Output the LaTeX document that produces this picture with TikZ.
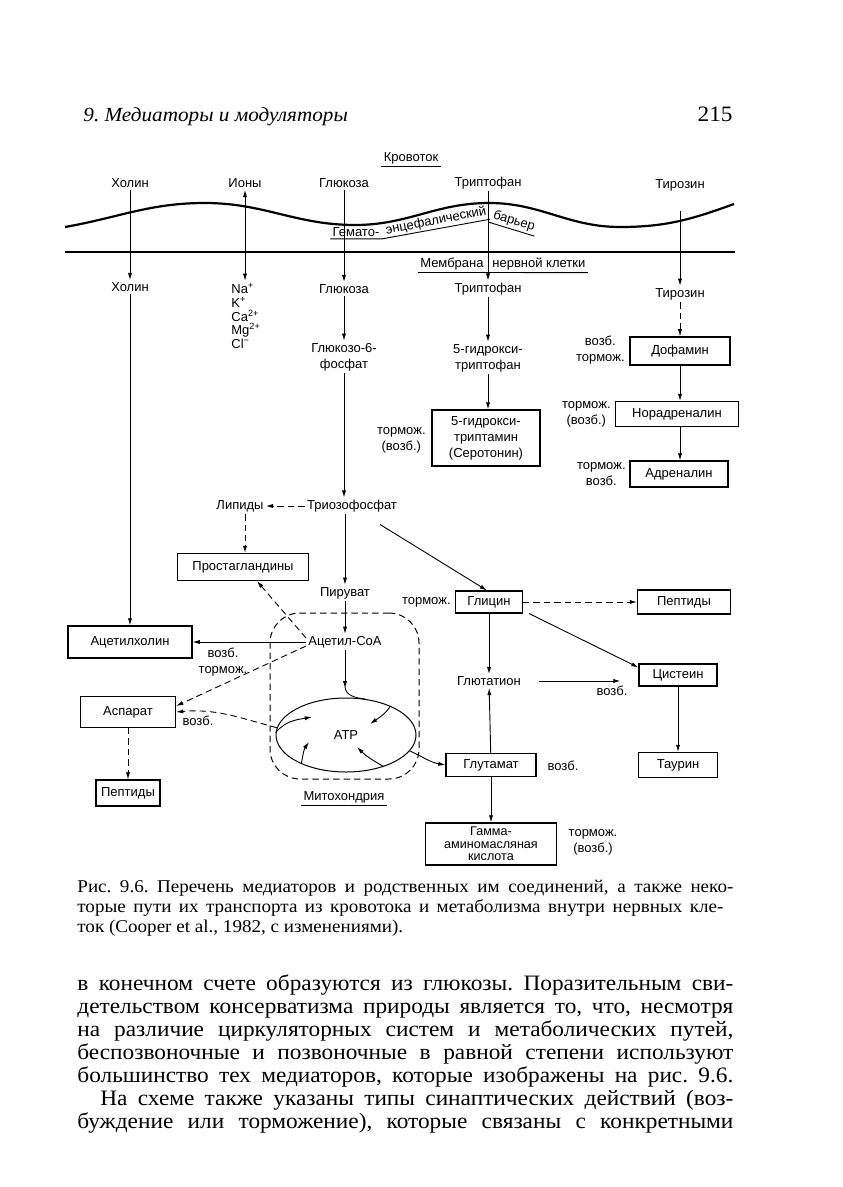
\documentclass[tikz,border=0pt]{standalone}
\usepackage{fontspec}
\setmainfont[FakeStretch=1.06]{Liberation Serif}
\newfontfamily\diagfont{Liberation Sans}
\usetikzlibrary{positioning,arrows.meta,calc,shapes.geometric}
\newcommand{\dgf}{\diagfont\fontsize{6.5}{8}\selectfont}
\frenchspacing

\begin{document}
\begin{tikzpicture}[
  x=0.5pt, y=-0.5pt,
  font=\dgf,
  lbl/.style    ={inner sep=1pt, align=center},
  sidelbl/.style={inner sep=1pt, align=center},
  box/.style    ={draw, line width=0.55pt, inner sep=1pt, align=center},
  ar/.style     ={-{Latex[length=3.6pt,width=2.1pt]}, line width=0.45pt},
  dar/.style    ={ar, dash pattern=on 3.2pt off 2pt},
  ar2/.style    ={{Latex[length=3.6pt,width=2.1pt]}-{Latex[length=3.6pt,width=2.1pt]}, line width=0.45pt},
  wall/.style   ={line width=1.1pt},
  ul/.style     ={line width=0.45pt},
  page/.style   ={inner sep=0pt, anchor=base west},
]
\useasboundingbox (0,0) rectangle (842,1187);
\fill[white] (0,0) rectangle (842,1187);

% running head
\node[page, font=\fontsize{10}{12}\selectfont\itshape] (runhead) at (83,122) {9. Медиаторы и модуляторы};
\node[inner sep=0pt, anchor=base east, font=\fontsize{11}{12}\selectfont] (pageno) at (733,122) {215};

% blood side
\node[lbl] (krov) at (411,158) {Кровоток};
\draw[ul] (krov.south west) -- (krov.south east);
\node[lbl] (cholA) at (130,183) {Холин};
\node[lbl] (ions)  at (245,183) {Ионы};
\node[lbl] (glcA)  at (344,183) {Глюкоза};
\node[lbl] (trpA)  at (488,183) {Триптофан};
\node[lbl] (tyrA)  at (680,185) {Тирозин};

% blood-brain barrier and membrane
\draw[wall] (65,227) to[out=10,in=180] (205,203) to[out=0,in=180] (355,225)
  to[out=0,in=180] (489,203) to[out=0,in=180] (620,227) to[out=0,in=200] (734,204);
\node[lbl] (hemA) at (356,232) {Гемато-};
\node[lbl, rotate=11]  (hemB) at (436,221) {энцефалический};
\node[lbl, rotate=-17] (hemC) at (514,221) {барьер};
\draw[ul] (hemA.south west) -- (hemA.south east) -- (hemB.south east);
\draw[ul] (hemC.south west) -- (hemC.south east);

\draw[wall, line width=0.9pt] (65,252) -- (735,252);
\node[lbl, anchor=east] (memA) at (486,264) {Мембрана};
\node[lbl, anchor=west] (memB) at (490,264) {нервной клетки};
\draw[ul] (memA.south west) -- (memB.south east);

% inside the cell
\node[lbl] (cholB) at (130,287) {Холин};
\node[lbl, align=left, anchor=west, font=\diagfont\fontsize{6.5}{6.9}\selectfont] (ionlist) at (229,316)
  {Na\textsuperscript{+}\\K\textsuperscript{+}\\Ca\textsuperscript{2+}\\Mg\textsuperscript{2+}\\Cl\textsuperscript{−}};
\node[lbl] (glcB) at (344,289) {Глюкоза};
\node[lbl] (g6p)  at (344,357) {Глюкозо-6-\\фосфат};
\node[lbl] (trpB) at (488,289) {Триптофан};
\node[lbl] (htp)  at (488,358) {5-гидрокси-\\триптофан};
\node[box, minimum width=54pt, minimum height=28pt] (ser) at (486,438) {5-гидрокси-\\триптамин\\(Серотонин)};
\node[sidelbl, anchor=east] (serN) at (428,440) {тормож.\\(возб.)};

\node[lbl] (tyrB) at (680,294) {Тирозин};
\node[box, minimum width=50pt, minimum height=14pt]   (da)  at (680,351) {Дофамин};
\node[sidelbl, anchor=east] (daN) at (627,350) {возб.\\тормож.};
\node[box, minimum width=61.5pt, minimum height=12.5pt] (na) at (677,414) {Норадреналин};
\node[sidelbl, anchor=east] (naN) at (613,414) {тормож.\\(возб.)};
\node[box, minimum width=49pt, minimum height=13pt]   (adr) at (679,474) {Адреналин};
\node[sidelbl, anchor=east] (adrN) at (628,474) {тормож.\\возб.};

\node[lbl] (triose) at (352,506) {Триозофосфат};
\node[lbl] (lip)    at (240,506) {Липиды};
\node[box, minimum width=65.5pt, minimum height=13.5pt] (pg) at (243,567) {Простагландины};
\node[lbl] (pyr)  at (345,593) {Пируват};
\node[lbl] (acoa) at (345,642) {Ацетил-CoA};
\node[box, minimum width=62pt, minimum height=16pt] (ach) at (130,642) {Ацетилхолин};
\node[sidelbl] (achN) at (223,662) {возб.\\тормож.};
\node[box, minimum width=47.5pt, minimum height=15.5pt] (asp) at (128,712) {Аспарат};
\node[sidelbl] (aspN) at (198,721) {возб.};
\node[box, minimum width=32pt, minimum height=13pt] (pepL) at (128,793) {Пептиды};

% mitochondrion
\node[draw, dash pattern=on 3.2pt off 2pt, line width=0.5pt, rounded corners=15pt,
      minimum width=74.5pt, minimum height=83pt] (mito) at (344.5,696) {};
\node[draw, ellipse, line width=0.5pt, inner sep=0pt,
      minimum width=70pt, minimum height=37pt] (atp) at (346,735) {ATP};
\node[lbl] (mitoL) at (344,797) {Митохондрия};
\draw[ul] (mitoL.south west) -- (mitoL.south east);

\node[box, minimum width=33.5pt, minimum height=11pt] (gly) at (489,602) {Глицин};
\node[sidelbl, anchor=east] (glyN) at (453,602) {тормож.};
\node[box, minimum width=46.5pt, minimum height=12pt] (pepR) at (684,602) {Пептиды};
\node[lbl] (gsh) at (489,681) {Глютатион};
\node[box, minimum width=39pt, minimum height=11pt] (cys) at (678,675) {Цистеин};
\node[sidelbl] (cysN) at (612,691) {возб.};
\node[box, minimum width=39.5pt, minimum height=12.5pt] (tau) at (678,765) {Таурин};
\node[box, minimum width=45pt, minimum height=11.5pt] (glu) at (491,765) {Глутамат};
\node[sidelbl] (gluN) at (563,766) {возб.};
\node[box, minimum width=65.5pt, minimum height=21pt, font=\diagfont\fontsize{6.3}{6.3}\selectfont]
  (gaba) at (491,844) {Гамма-\\аминомасляная\\кислота};
\node[sidelbl] (gabaN) at (593,842) {тормож.\\(возб.)};

% transport
\draw[ar] (cholA) -- (cholB);
\draw[ar] (cholB) -- (ach);
\draw[ar2] (ions.south) -- (ions.south |- ionlist.north);
\draw[ar] (glcA) -- (glcB);
\draw[ar] (trpA) -- (trpB);
\draw[ar] ($(tyrA.south)+(0,18)$) -- (tyrB);

% metabolism
\draw[ar] (glcB) -- (g6p);
\draw[ar] (g6p) -- (g6p |- triose.north);
\draw[ar] (trpB) -- (htp);
\draw[ar] (htp) -- (htp |- ser.north);
\draw[dar] (tyrB) -- (tyrB |- da.north);
\foreach \a/\b in {da/na,na/adr}{\draw[ar] (da |- \a.south) -- (da |- \b.north);}

\draw[dar] (triose) -- (lip);
\draw[dar] ([xshift=2.5pt]lip.south) -- ([xshift=2.5pt]lip.south |- pg.north);
\draw[ar] (pyr |- triose.south) -- (pyr);
\draw[ar] ($(triose.south)+(28,10)$) -- ([xshift=-1pt]gly.north);
\draw[ar] (pyr) -- (acoa);
\draw[ar] (acoa) -- (ach);
\draw[dar] ([yshift=2pt]acoa.west) -- ([xshift=7pt]pg.south);
\draw[dar] ([yshift=-2pt]acoa.west) -- ([yshift=3pt]asp.east);
\draw[dar] (asp) -- (pepL);

% into and out of the ATP cycle
\draw[ar] (acoa.south) -- ++(0,38);
\draw ($(acoa.south)+(0,36)$) to[out=-90,in=175] (atp.62);
\draw[ar] (atp.178) to[out=50,in=190]  ($(atp.center)+(-34,-18)$);
\draw[ar] (atp.213) to[out=80,in=235]  ($(atp.center)+(-37,7)$);
\draw[ar] (atp.33)  to[out=235,in=35]  ($(atp.center)+(24,-11)$);
\draw[ar] (atp.320) to[out=150,in=-45] ($(atp.center)+(11,12)$);
\draw[ar] (atp.346) to[out=-25,in=170] (glu.west);
\draw[dar] (atp.174) to[out=165,in=5] (asp.east);

\draw[dar] (gly) -- (pepR);
\draw[ar] ([xshift=3pt]gly.south east) -- ([yshift=-2pt]cys.north west);
\draw[ar] (gly) -- (gsh);
\draw[ar, shorten <=8pt, shorten >=9pt] (gsh) -- (gsh -| cys.west);
\draw[ar] (cys) -- (tau);
\draw[ar] (glu) -- (gsh);
\draw[ar] (glu) -- (gaba);

% caption
\node[page, font=\fontsize{9}{10}\selectfont] (capA) at (77,892)
  {\makebox[328pt][s]{Рис. 9.6. Перечень медиаторов и родственных им соединений, а также неко-}};
\node[page, font=\fontsize{9}{10}\selectfont] (capB) at (77,912)
  {\makebox[323pt][s]{торые пути их транспорта из кровотока и метаболизма внутри нервных кле-}};
\node[page, font=\fontsize{9}{10}\selectfont] (capC) at (77,932)
  {ток (Cooper et al., 1982, с изменениями).};

% body text
\node[page, font=\fontsize{11}{12}\selectfont] (txtA) at (77,990)
  {\makebox[328pt][s]{в конечном счете образуются из глюкозы. Поразительным сви-}};
\node[page, font=\fontsize{11}{12}\selectfont] (txtB) at (77,1013)
  {\makebox[328pt][s]{детельством консерватизма природы является то, что, несмотря}};
\node[page, font=\fontsize{11}{12}\selectfont] (txtC) at (77,1036)
  {\makebox[328pt][s]{на различие циркуляторных систем и метаболических путей,}};
\node[page, font=\fontsize{11}{12}\selectfont] (txtD) at (77,1059)
  {\makebox[328pt][s]{беспозвоночные и позвоночные в равной степени используют}};
\node[page, font=\fontsize{11}{12}\selectfont] (txtE) at (77,1082)
  {\makebox[328pt][s]{большинство тех медиаторов, которые изображены на рис. 9.6.}};
\node[page, font=\fontsize{11}{12}\selectfont] (txtF) at (100,1105)
  {\makebox[316.5pt][s]{На схеме также указаны типы синаптических действий (воз-}};
\node[page, font=\fontsize{11}{12}\selectfont] (txtG) at (77,1128)
  {\makebox[328pt][s]{буждение или торможение), которые связаны с конкретными}};
\end{tikzpicture}
\end{document}
